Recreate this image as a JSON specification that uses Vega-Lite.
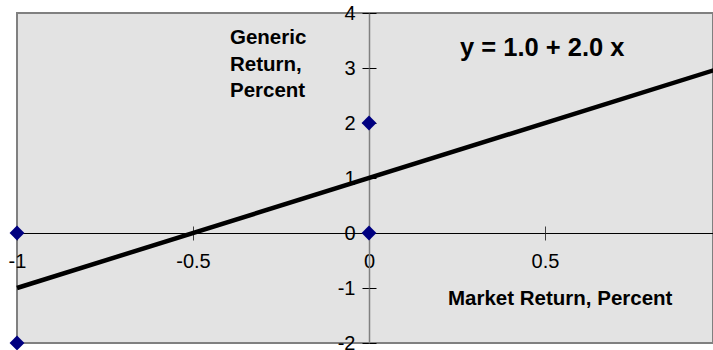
{
  "$schema": "https://vega.github.io/schema/vega-lite/v6.json",
  "width": 696,
  "height": 330,
  "autosize": {"type": "none"},
  "padding": {"left": 17, "top": 13, "right": 0, "bottom": 7},
  "background": "white",
  "config": {
    "view": {"fill": "#e3e3e3", "stroke": "#808080", "strokeWidth": 2},
    "font": "Liberation Sans"
  },
  "datasets": {
    "points": [
      {"market": -1, "generic": 0},
      {"market": -1, "generic": -2},
      {"market": 0, "generic": 2},
      {"market": 0, "generic": 0},
      {"market": 1, "generic": 4},
      {"market": 1, "generic": 2}
    ],
    "fit": [
      {"market": -1, "generic": -1},
      {"market": 1, "generic": 3}
    ]
  },
  "resolve": {"axis": {"x": "independent", "y": "independent"}},
  "layer": [
    {
      "data": {"name": "points"},
      "mark": {"type": "point", "shape": "diamond", "filled": true, "size": 220, "color": "#000080", "opacity": 1},
      "encoding": {
        "x": {
          "field": "market", "type": "quantitative",
          "scale": {"domain": [-1, 0.9773], "nice": false, "zero": false},
          "axis": {
            "orient": "bottom", "offset": -110, "values": [-1, -0.5, 0, 0.5],
            "domainColor": "black", "domainWidth": 1, "tickColor": "#404040", "tickSize": 7, "tickWidth": 1,
            "labelFont": "Liberation Sans", "labelFontSize": 20, "labelColor": "black", "labelPadding": 11,
            "labelFlush": false, "labelOverlap": false, "grid": false, "title": null,
            "labelExpr": "'' + datum.value"
          }
        },
        "y": {
          "field": "generic", "type": "quantitative",
          "scale": {"domain": [-2, 4], "nice": false, "zero": false},
          "axis": {
            "orient": "left", "offset": -352, "values": [-2, -1, 0, 1, 2, 3, 4],
            "domainColor": "#808080", "domainWidth": 1.5, "tickColor": "black", "tickSize": 7, "tickWidth": 1,
            "labelFont": "Liberation Sans", "labelFontSize": 20, "labelColor": "black", "labelPadding": 7,
            "labelFlush": false, "labelOverlap": false, "grid": false, "title": null,
            "labelExpr": "'' + datum.value"
          }
        }
      }
    },
    {
      "data": {"name": "fit"},
      "mark": {"type": "line", "color": "black", "strokeWidth": 4.5},
      "encoding": {
        "x": {
          "field": "market", "type": "quantitative",
          "axis": {
            "orient": "top", "offset": -220, "values": [-1, -0.5, 0, 0.5],
            "domain": false, "labels": false, "tickColor": "#404040", "tickSize": 7, "tickWidth": 1,
            "grid": false, "title": null
          }
        },
        "y": {
          "field": "generic", "type": "quantitative",
          "axis": {
            "orient": "right", "offset": -344, "values": [-2, -1, 0, 1, 2, 3, 4],
            "domain": false, "labels": false, "tickColor": "black", "tickSize": 7, "tickWidth": 1,
            "grid": false, "title": null
          }
        }
      }
    },
    {
      "data": {"values": [{}]},
      "mark": {"type": "text", "text": ["Generic", "Return,", "Percent"], "align": "left", "baseline": "middle", "fontSize": 20.5, "fontWeight": "bold", "lineHeight": 26.5, "color": "black"},
      "encoding": {
        "x": {"datum": -0.395, "type": "quantitative", "axis": null},
        "y": {"datum": 3.545, "type": "quantitative", "axis": null}
      }
    },
    {
      "data": {"values": [{}]},
      "mark": {"type": "text", "text": "y = 1.0 + 2.0 x", "align": "left", "baseline": "middle", "fontSize": 25.5, "fontWeight": "bold", "color": "black"},
      "encoding": {
        "x": {"datum": 0.2585, "type": "quantitative", "axis": null},
        "y": {"datum": 3.36, "type": "quantitative", "axis": null}
      }
    },
    {
      "data": {"values": [{}]},
      "mark": {"type": "text", "text": "Market Return, Percent", "align": "left", "baseline": "middle", "fontSize": 20.5, "fontWeight": "bold", "color": "black"},
      "encoding": {
        "x": {"datum": 0.2244, "type": "quantitative", "axis": null},
        "y": {"datum": -1.2, "type": "quantitative", "axis": null}
      }
    }
  ]
}
